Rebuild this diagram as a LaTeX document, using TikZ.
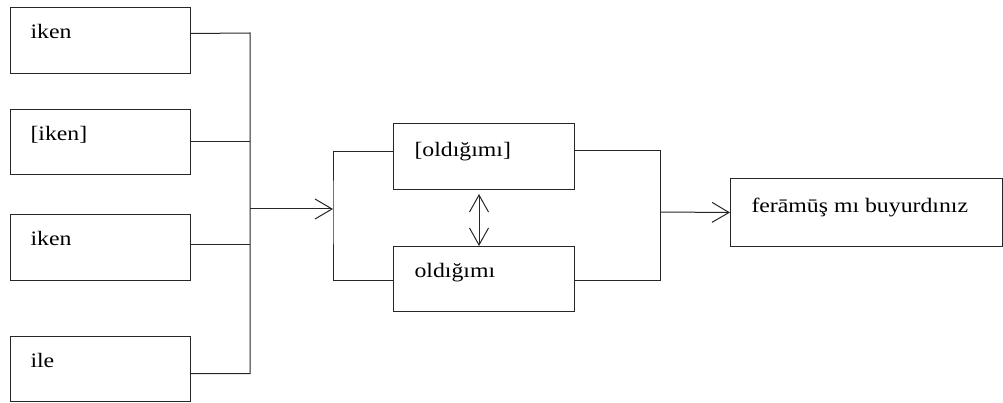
\documentclass[tikz,border=0pt]{standalone}
\usepackage{fontspec}
\setmainfont{Liberation Serif}
\usepackage{graphicx}
\usetikzlibrary{arrows.meta,calc}
\newcommand{\widetxt}[1]{\scalebox{1.16}[1]{#1}}
\begin{document}
\begin{tikzpicture}[x=1pt,y=-1pt,
  line width=1pt,
  box/.style={draw=black!85, rectangle, anchor=north west, inner sep=0pt},
  txt/.style={anchor=base west, inner sep=0pt, font=\fontsize{20.5}{24}\selectfont},
  wire/.style={draw=black!85},
  arr/.style={wire, -{Straight Barb[length=17pt,width=20pt]}},
  darr/.style={wire, {Straight Barb[length=17pt,width=19pt]}-{Straight Barb[length=17pt,width=19pt]}}]
\useasboundingbox (0,0) rectangle (1003,403);

% left column of boxes
\node[box, minimum width=180pt, minimum height=66pt] (b1) at (10,7) {};
\node[box, minimum width=180pt, minimum height=65pt] (b2) at (10,109) {};
\node[box, minimum width=180pt, minimum height=66pt] (b3) at (10,214) {};
\node[box, minimum width=180pt, minimum height=65pt] (b4) at (10,336) {};
\node[txt] (t1) at ([shift={(20,32)}]b1.north west) {\widetxt{iken}};
\node[txt] (t2) at ([shift={(20,32)}]b2.north west) {\widetxt{[iken]}};
\node[txt] (t3) at ([shift={(20,32)}]b3.north west) {\widetxt{iken}};
\node[txt] (t4) at ([shift={(20,31)}]b4.north west) {\widetxt{ile}};

% middle pair
\node[box, minimum width=181pt, minimum height=66pt] (b5) at (393,123) {};
\node[box, minimum width=181pt, minimum height=65pt] (b6) at (393,246) {};
\node[txt] (t5) at ([shift={(21,34)}]b5.north west) {\widetxt{[oldığımı]}};
\node[txt] (t6) at ([shift={(21,31)}]b6.north west) {\widetxt{oldığımı}};

% result box
\node[box, minimum width=272pt, minimum height=68pt] (b7) at (730,178) {};
\node[txt] (t7) at ([shift={(21,35)}]b7.north west) {\widetxt{ferāmūş mı buyurdınız}};

% exit points on the box sides
\coordinate (o1) at ([yshift=7pt]b1.east);
\coordinate (o2) at (b2.east);
\coordinate (o3) at ([yshift=3pt]b3.east);
\coordinate (o4) at ([yshift=-4.5pt]b4.east);
\coordinate (i5) at ([yshift=5pt]b5.west);
\coordinate (i6) at ([yshift=-1.5pt]b6.west);
\coordinate (o5) at ([yshift=6pt]b5.east);
\coordinate (o6) at ([yshift=-1.5pt]b6.east);

% junction points
\coordinate (ltop) at (250,33);
\coordinate (lmid) at (250,209);
\coordinate (mL) at (333,209);
\coordinate (mR) at (660,212);

% left bus
\draw[wire] (o1) -- (ltop) -- (ltop |- o4) -- (o4);
\draw[wire] (o2) -- (o2 -| ltop);
\draw[wire] (o3) -- (o3 -| ltop);
\draw[arr] (lmid) -- (mL);

% bracket into the middle pair
\draw[wire] (i5) -| (mL) |- (i6);
\draw[darr] ([xshift=-5pt,yshift=-4pt]b5.south) -- ([xshift=-5pt]b6.north);

% bracket out to the result
\draw[wire] (o5) -| (mR) |- (o6);
\draw[arr] (mR) -- (b7.west);
\end{tikzpicture}
\end{document}
